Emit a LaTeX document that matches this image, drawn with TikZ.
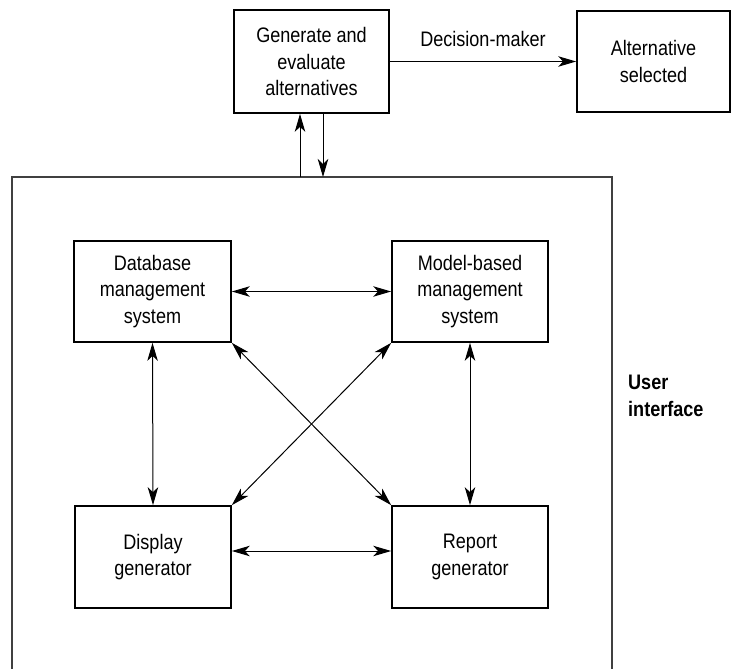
\documentclass[tikz,border=0pt]{standalone}
\usepackage{fontspec}
\setmainfont{Liberation Sans}[FakeStretch=0.86]
\usetikzlibrary{arrows.meta}
\tikzset{
  tip/.tip={Stealth[length=18bp,width=10.5bp,inset=5bp]},
  box/.style={draw, line width=1.7bp, inner sep=0pt, align=center,
    font=\fontsize{21bp}{26.7bp}\selectfont},
  arr/.style={line width=1bp, -tip},
  darr/.style={line width=1bp, tip-tip},
  lbl/.style={inner sep=0pt, font=\fontsize{21bp}{26.7bp}\selectfont}
}
\begin{document}
\begin{tikzpicture}[x=1bp,y=-1bp]
\useasboundingbox (0,0) rectangle (732,669);
% user interface frame (bottom edge lies below the picture)
\draw[line width=1.1bp, black!75] (12,690) -- (12,177) -- (612,177) -- (612,690);
\coordinate (uiA) at (300,177);
\coordinate (uiB) at (323,177);

\node[box, minimum width=155bp, minimum height=103bp] (gen) at (311.5,61.5) {Generate and\\evaluate\\alternatives};
\node[box, minimum width=153bp, minimum height=101bp] (alt) at (653.5,61.5) {Alternative\\selected};
\node[box, minimum width=157bp, minimum height=101bp] (dbms) at (152.5,291.5) {Database\\management\\system};
\node[box, minimum width=156bp, minimum height=101bp] (mbms) at (470,291.5) {Model-based\\management\\system};
\node[box, minimum width=156bp, minimum height=102bp] (disp) at (153,557) {Display\\generator};
\node[box, minimum width=156bp, minimum height=102bp] (rep) at (470,557) {Report\\generator};

\node[lbl, anchor=base] (dm) at (483,47) {Decision-maker};
\node[lbl, anchor=base west, align=left, font=\fontsize{21bp}{26.7bp}\selectfont\bfseries] (ui) at (628,416) {User\\interface};

\draw[arr] (gen.east) -- (alt.west);
\draw[arr] (uiA) -- (uiA |- gen.south);
\draw[arr] (uiB |- gen.south) -- (uiB);

\draw[darr] (dbms.east) -- (mbms.west);
\draw[darr] ([yshift=6bp]disp.east) -- ([yshift=6bp]rep.west);
\draw[darr] (dbms.south) -- (disp.north);
\draw[darr] (mbms.south) -- (rep.north);
\draw[darr] (dbms.south east) -- (rep.north west);
\draw[darr] (mbms.south west) -- (disp.north east);
\end{tikzpicture}
\end{document}
